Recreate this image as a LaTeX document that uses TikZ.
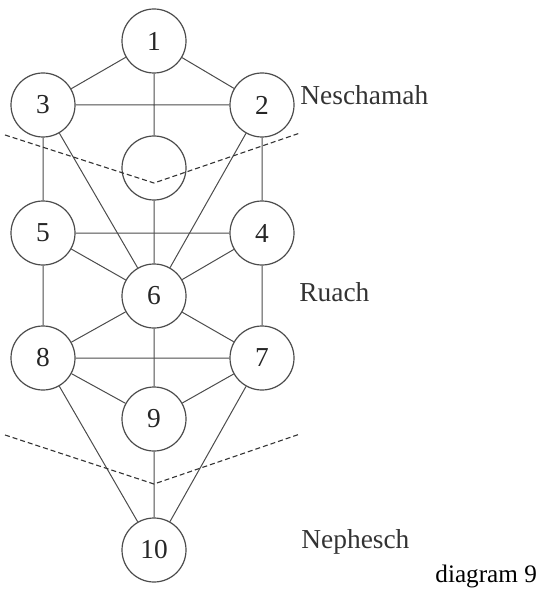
\documentclass[tikz,border=0pt]{standalone}
\usepackage{fontspec}
\setmainfont{Liberation Serif}
\begin{document}
\begin{tikzpicture}[x=0.5pt,y=-0.5pt,font=\fontsize{13.7}{16}\selectfont,
  sefira/.style={circle,draw=black!70,line width=0.6pt,minimum size=32pt,inner sep=0pt,text=black!85},
  link/.style={draw=black!70,line width=0.5pt},
  border/.style={draw=black!80,line width=0.55pt,dash pattern=on 2.5pt off 1.5pt},
  region/.style={anchor=base west,inner sep=0pt,text=black!80}]
\useasboundingbox (0,0) rectangle (550,593);
\node[sefira](s1) at (154,41){1};
\node[sefira](s3) at (43,105){3};
\node[sefira](s2) at (262,105){2};
\node[sefira](da) at (154,168){};
\node[sefira](s5) at (43,233){5};
\node[sefira](s4) at (262,233){4};
\node[sefira](s6) at (154,296){6};
\node[sefira](s8) at (43,358){8};
\node[sefira](s7) at (262,358){7};
\node[sefira](s9) at (154,419){9};
\node[sefira](s10) at (154,550){10};
\draw[link](s1)--(s3) (s1)--(s2) (s1)--(da) (s3)--(s2) (s3)--(s5) (s2)--(s4) (s3)--(s6) (s2)--(s6) (da)--(s6);
\draw[link](s5)--(s4) (s5)--(s6) (s4)--(s6) (s5)--(s8) (s4)--(s7) (s6)--(s8) (s6)--(s7) (s6)--(s9);
\draw[link](s8)--(s7) (s8)--(s9) (s7)--(s9) (s8)--(s10) (s7)--(s10) (s9)--(s10);
\coordinate(u1) at (5,135); \coordinate(u2) at (154,183); \coordinate(u3) at (300,133);
\coordinate(l1) at (5,435); \coordinate(l2) at (154,484); \coordinate(l3) at (300,434);
\draw[border](u1)--(u2)--(u3) (l1)--(l2)--(l3);
\node[region](nesch) at (300,105){Neschamah};
\node[region](ruach) at (299,301){Ruach};
\node[region](neph) at (301,548){Nephesch};
\node[anchor=base west,inner sep=0pt,font=\fontsize{12.6}{15}\selectfont](cap) at (435,582){diagram 9};
\end{tikzpicture}
\end{document}
